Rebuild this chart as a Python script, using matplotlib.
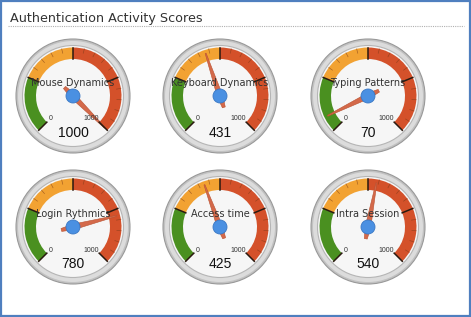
import numpy as np
import matplotlib
matplotlib.use('Agg')
import matplotlib.pyplot as plt
from matplotlib.patches import Circle, Wedge, Polygon, Rectangle

# Data
names = ['Mouse Dynamics', 'Keyboard Dynamics', 'Typing Patterns',
         'Login Rythmics', 'Access time', 'Intra Session']
scores = [1000, 431, 70, 780, 425, 540]
vmin, vmax = 0, 1000
bands = [(0, 250, '#4a9020'), (250, 500, '#f2a232'), (500, 1000, '#d4512a')]
major_ticks = [0, 250, 500, 750, 1000]
minor_ticks = list(range(0, 1001, 50))

# Layout (pixels, y up)
W, H = 471, 317
col_x = [73, 220, 368]
row_y = [H - 96, H - 227]
R_OUT = 57


def val2ang(v):
    # 0 at lower-left, sweep 270 deg clockwise
    return 225 - 270 * (v - vmin) / (vmax - vmin)


def polar(cx, cy, r, a):
    t = np.radians(a)
    return cx + r * np.cos(t), cy + r * np.sin(t)


fig = plt.figure(figsize=(W / 100, H / 100), dpi=100, facecolor='white')
ax = fig.add_axes([0, 0, 1, 1])
ax.set_xlim(0, W)
ax.set_ylim(0, H)
ax.set_aspect('equal')
ax.axis('off')

# Frame and title
ax.add_patch(Rectangle((1.2, 1.2), W - 2.4, H - 2.4, fill=False,
                       edgecolor='#4f7fbf', lw=1.6))
ax.text(10, H - 22, 'Authentication Activity Scores', fontsize=9.2,
        color='#333333', family='DejaVu Sans', va='baseline')
ax.plot([8, 464], [H - 26, H - 26], color='#b0b0b0', lw=0.8, ls=(0, (1, 1)))

for i, (name, score) in enumerate(zip(names, scores)):
    cx = col_x[i % 3]
    cy = row_y[i // 3]

    # bezel
    ax.add_patch(Circle((cx, cy), R_OUT, fc='#c2c2c2', ec='#999999', lw=0.8))
    ax.add_patch(Circle((cx, cy), R_OUT - 2, fc='#dcdcdc', ec='none'))
    ax.add_patch(Circle((cx, cy), R_OUT - 6.5, fc='#f6f6f6', ec='#b5b5b5', lw=0.8))

    # colour bands
    for lo, hi, col in bands:
        ax.add_patch(Wedge((cx, cy), 48.5, val2ang(hi), val2ang(lo), width=11.5,
                           fc=col, ec='none'))

    # ticks
    for t in minor_ticks:
        if t in major_ticks or t < 250:
            continue
        a = val2ang(t)
        x0, y0 = polar(cx, cy, 44, a)
        x1, y1 = polar(cx, cy, 48.5, a)
        ax.plot([x0, x1], [y0, y1], color='#7a3a18', lw=0.5, alpha=0.6)
    for t in major_ticks:
        a = val2ang(t)
        x0, y0 = polar(cx, cy, 37, a)
        x1, y1 = polar(cx, cy, 48.5, a)
        ax.plot([x0, x1], [y0, y1], color='#2a1a10', lw=1.1)

    ax.text(cx - 22, cy - 23, str(vmin), fontsize=5, ha='center', va='center',
            color='#333333', family='Liberation Sans')
    ax.text(cx + 26, cy - 23, str(vmax), fontsize=5, ha='right', va='center',
            color='#333333', family='Liberation Sans')

    ax.text(cx, cy + 13, name, fontsize=7, ha='center', va='center',
            color='#333333', family='DejaVu Sans')

    # needle
    a = val2ang(score)
    t = np.radians(a)
    ux, uy = np.cos(t), np.sin(t)
    px, py = -uy, ux
    pts = [
        (cx + 45 * ux + 0.5 * px, cy + 45 * uy + 0.5 * py),
        (cx + 2.8 * px, cy + 2.8 * py),
        (cx - 12 * ux + 1.5 * px, cy - 12 * uy + 1.5 * py),
        (cx - 12 * ux - 1.5 * px, cy - 12 * uy - 1.5 * py),
        (cx - 2.8 * px, cy - 2.8 * py),
        (cx + 45 * ux - 0.5 * px, cy + 45 * uy - 0.5 * py),
    ]
    ax.add_patch(Polygon(pts, closed=True, fc='#d4694a', ec='#b8502f', lw=0.4))
    ax.add_patch(Circle((cx, cy), 7, fc='#4a90e2', ec='#3a78c4', lw=0.6))

    ax.text(cx, cy - 37, str(score), fontsize=10, ha='center', va='center',
            color='#111111', family='Liberation Sans')

fig.savefig('out.png', dpi=100, facecolor='white')
